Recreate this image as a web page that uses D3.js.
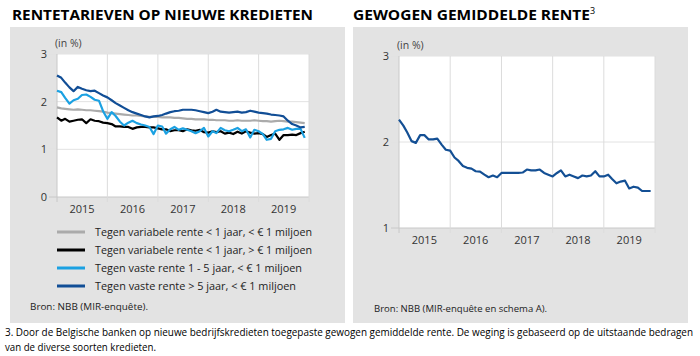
<!DOCTYPE html>
<html><head><meta charset="utf-8">
<script src="https://cdn.jsdelivr.net/npm/d3@7"></script>
<style>
html,body{margin:0;padding:0;background:#fff;}
svg{display:block;}
text{font-family:"Open Sans","Noto Sans",sans-serif;}
</style></head>
<body><svg id="c" width="700" height="356"></svg>
<script>
// ---- data ----
const years = [2015, 2016, 2017, 2018, 2019];
const yTicksLeft = [0, 1, 2, 3];
const yTicksRight = [1, 2, 3];
const seriesNames = [
  "Tegen variabele rente < 1 jaar, < € 1 miljoen",
  "Tegen variabele rente < 1 jaar, > € 1 miljoen",
  "Tegen vaste rente 1 - 5  jaar, < € 1 miljoen",
  "Tegen vaste rente >  5 jaar, < € 1 miljoen"
];
const variabelKlein = [
  1.88,1.86,1.85,1.84,1.83,1.84,1.83,1.82,1.82,1.81,1.80,1.79,
  1.77,1.76,1.75,1.74,1.73,1.72,1.71,1.71,1.70,1.69,1.68,1.68,
  1.68,1.67,1.67,1.67,1.66,1.66,1.65,1.64,1.64,1.63,1.63,1.63,
  1.62,1.62,1.61,1.61,1.61,1.60,1.60,1.61,1.60,1.60,1.60,1.61,
  1.60,1.59,1.59,1.58,1.59,1.60,1.59,1.58,1.58,1.57,1.56,1.55];
const variabelGroot = [
  1.67,1.60,1.64,1.58,1.60,1.62,1.63,1.55,1.63,1.60,1.59,1.56,
  1.55,1.53,1.48,1.48,1.47,1.47,1.43,1.46,1.47,1.47,1.46,1.46,
  1.44,1.42,1.42,1.38,1.40,1.40,1.38,1.42,1.40,1.39,1.41,1.36,
  1.35,1.38,1.36,1.38,1.33,1.35,1.32,1.37,1.33,1.38,1.35,1.33,
  1.34,1.32,1.26,1.30,1.33,1.20,1.30,1.30,1.31,1.30,1.34,1.37];
const vast1tot5 = [
  2.23,2.20,2.08,1.96,2.03,2.06,2.14,2.15,2.10,2.04,2.02,1.80,
  1.64,1.78,1.70,1.58,1.50,1.56,1.60,1.55,1.52,1.50,1.47,1.32,
  1.50,1.48,1.33,1.42,1.47,1.41,1.44,1.41,1.38,1.34,1.38,1.45,
  1.27,1.38,1.34,1.45,1.40,1.38,1.41,1.45,1.38,1.42,1.25,1.41,
  1.38,1.32,1.20,1.22,1.38,1.41,1.42,1.45,1.41,1.43,1.43,1.24];
const vastBoven5 = [
  2.55,2.50,2.40,2.30,2.22,2.31,2.27,2.24,2.22,2.23,2.18,2.13,
  2.09,2.03,1.97,1.92,1.87,1.82,1.78,1.75,1.72,1.69,1.67,1.69,
  1.70,1.72,1.75,1.78,1.80,1.81,1.83,1.83,1.83,1.82,1.80,1.78,
  1.76,1.79,1.83,1.79,1.78,1.77,1.78,1.79,1.77,1.78,1.81,1.79,
  1.77,1.76,1.75,1.73,1.72,1.71,1.69,1.60,1.53,1.50,1.46,1.47];
const gewogen = [
  2.26,2.19,2.11,2.01,1.99,2.08,2.08,2.03,2.03,2.04,1.97,1.91,
  1.90,1.82,1.78,1.72,1.70,1.69,1.66,1.655,1.62,1.59,1.61,1.59,
  1.64,1.64,1.64,1.64,1.64,1.645,1.68,1.67,1.67,1.68,1.64,1.62,
  1.60,1.64,1.67,1.60,1.62,1.60,1.58,1.61,1.60,1.61,1.66,1.60,
  1.60,1.62,1.57,1.52,1.54,1.55,1.46,1.48,1.47,1.43,1.43,1.43];
const seriesColors = ["#ababab", "#000000", "#1ba1e2", "#114e96"];
const leftSeries = [variabelKlein, variabelGroot, vast1tot5, vastBoven5];

const svg = d3.select("#c");
const month = i => new Date(years[0], i, 1);

// panels
svg.append("rect").attr("x",10).attr("y",27).attr("width",335).attr("height",296).attr("fill","#e3e3e3");
svg.append("rect").attr("x",353).attr("y",27).attr("width",335).attr("height",296).attr("fill","#e3e3e3");

function fitText(sel, w){ sel.attr("textLength", w).attr("lengthAdjust","spacingAndGlyphs"); return sel; }

// titles
fitText(svg.append("text").attr("x",12).attr("y",20).attr("font-family","Liberation Sans, Arial, sans-serif")
  .attr("font-weight","bold").attr("font-size",14.5).attr("fill","#000").text("RENTETARIEVEN OP NIEUWE KREDIETEN"),301);
fitText(svg.append("text").attr("x",353).attr("y",20).attr("font-family","Liberation Sans, Arial, sans-serif")
  .attr("font-weight","bold").attr("font-size",14.5).attr("fill","#000").text("GEWOGEN GEMIDDELDE RENTE"),237);
svg.append("text").attr("x",590).attr("y",14).attr("font-family","Liberation Sans, Arial, sans-serif")
  .attr("font-size",9).attr("fill","#000").text("3");

function drawPanel(cfg){
  const x = d3.scaleTime().domain([new Date(years[0],0,1), new Date(years[years.length-1]+1,0,1)]).range([cfg.x0,cfg.x1]);
  const y = d3.scaleLinear().domain(cfg.yDomain).range([cfg.yb,cfg.yt]);
  const g = svg.append("g");
  g.append("rect").attr("x",cfg.x0).attr("y",cfg.yt).attr("width",cfg.x1-cfg.x0).attr("height",cfg.yb-cfg.yt).attr("fill","#fff");
  // horizontal grid
  g.selectAll(".hg").data(cfg.yTicks).enter().append("line")
    .attr("x1",cfg.x0-8).attr("x2",cfg.x1).attr("y1",d=>y(d)).attr("y2",d=>y(d))
    .attr("stroke",d=>d===cfg.yDomain[0]?"#c8c8c8":"#e2e2e2").attr("stroke-width",1);
  // vertical grid
  const bounds = years.map(yr=>new Date(yr,0,1)).concat([new Date(years[years.length-1]+1,0,1)]);
  g.selectAll(".vg").data(bounds).enter().append("line")
    .attr("x1",d=>x(d)).attr("x2",d=>x(d)).attr("y1",cfg.yt).attr("y2",cfg.yb+5)
    .attr("stroke",(d,i)=>(i===0)?"#c8c8c8":"#dcdcdc").attr("stroke-width",1);
  // y labels
  g.selectAll(".yl").data(cfg.yTicks).enter().append("text")
    .attr("x",cfg.x0-10).attr("y",d=>y(d)).attr("dy","0.35em").attr("text-anchor","end")
    .attr("font-size",11).attr("fill","#333").text(d=>d);
  // x labels
  g.selectAll(".xl").data(years).enter().append("text")
    .attr("x",d=>x(new Date(d,6,1))).attr("y",cfg.yb+16).attr("text-anchor","middle")
    .attr("font-size",11).attr("fill","#333").text(d=>d);
  g.append("text").attr("x",cfg.x0-2).attr("y",cfg.yt-7).attr("font-size",10.5).attr("fill","#444").text("(in %)");
  const line = d3.line().x((d,i)=>x(month(i))).y(d=>y(d));
  cfg.series.forEach((s,k)=>{
    g.append("path").datum(s).attr("d",line).attr("fill","none")
      .attr("stroke",cfg.colors[k]).attr("stroke-width",2.2).attr("stroke-linejoin","round");
  });
}

drawPanel({x0:57,x1:309,yt:54,yb:197,yDomain:[0,3],yTicks:yTicksLeft,series:leftSeries,colors:seriesColors});
drawPanel({x0:399,x1:655,yt:56,yb:228,yDomain:[1,3],yTicks:yTicksRight,series:[gewogen],colors:["#134f94"]});

// legend
const legW = [217,217,207,201];
seriesNames.forEach((n,i)=>{
  const yy = 232 + i*18;
  svg.append("line").attr("x1",57).attr("x2",85).attr("y1",yy).attr("y2",yy)
    .attr("stroke",seriesColors[i]).attr("stroke-width",3);
  fitText(svg.append("text").attr("x",95).attr("y",yy).attr("dy","0.35em")
    .attr("font-size",11).attr("fill","#222").text(n), legW[i]);
});

// sources
fitText(svg.append("text").attr("x",30).attr("y",307).attr("dy","0.35em").attr("font-size",9.5).attr("fill","#222")
  .text("Bron: NBB (MIR-enquête)."),118);
fitText(svg.append("text").attr("x",374).attr("y",309).attr("dy","0.35em").attr("font-size",9.5).attr("fill","#222")
  .text("Bron: NBB (MIR-enquête en schema A)."),173);

// footnote
fitText(svg.append("text").attr("x",5).attr("y",332).attr("dy","0.35em").attr("font-family","Liberation Sans, Arial, sans-serif")
  .attr("font-size",10).attr("fill","#000")
  .text("3. Door de Belgische banken op nieuwe bedrijfskredieten toegepaste gewogen gemiddelde rente. De weging is gebaseerd op de uitstaande bedragen"),688);
fitText(svg.append("text").attr("x",5).attr("y",347).attr("dy","0.35em").attr("font-family","Liberation Sans, Arial, sans-serif")
  .attr("font-size",10).attr("fill","#000")
  .text("van de diverse soorten kredieten."),151);
</script></body></html>
